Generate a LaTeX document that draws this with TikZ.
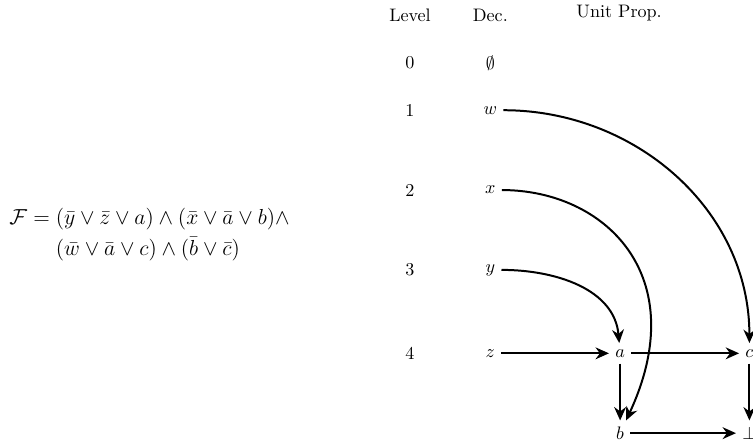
\documentclass[tikz,border=0pt]{standalone}
\usepackage{amsmath,amssymb}
\usetikzlibrary{arrows.meta,positioning}

\begin{document}
\begin{tikzpicture}[
  hd/.style={anchor=base},
  lv/.style={},
  lit/.style={},
  arr/.style={-{Stealth[length=2.6mm,width=2.3mm]}, line width=1.1pt}
]
\useasboundingbox (0,0) rectangle (14.62,-8.64);
% Formel
\node[anchor=west, align=left, font=\large] (form) at (0.06,-4.55)
  {$\mathcal{F} = (\bar y \vee \bar z \vee a) \wedge (\bar x \vee \bar a \vee b) \wedge$\\[3pt]
   $\hphantom{\mathcal{F} = {}}(\bar w \vee \bar a \vee c) \wedge (\bar b \vee \bar c)$};
% Kopfzeile
\node[hd] (hlev) at (7.96,-0.42) {Level};
\node[hd] (hdec) at (9.52,-0.42) {Dec.};
\node[hd] (hup) at (12.02,-0.34) {Unit Prop.};
% Ebenen
\node[lv] (l0) at (7.96,-1.22) {0};
\node[lv] (l1) at (7.96,-2.14) {1};
\node[lv] (l2) at (7.96,-3.69) {2};
\node[lv] (l3) at (7.96,-5.24) {3};
\node[lv] (l4) at (7.96,-6.86) {4};
% Entscheidungen
\node[lit] (d0) at (9.52,-1.22) {$\emptyset$};
\node[lit] (w) at (9.52,-2.14) {$w$};
\node[lit] (x) at (9.52,-3.69) {$x$};
\node[lit] (y) at (9.52,-5.24) {$y$};
\node[lit] (z) at (9.52,-6.86) {$z$};
% Propagation
\node[lit] (a) at (12.04,-6.86) {$a$};
\node[lit] (c) at (14.55,-6.86) {$c$};
\node[lit] (b) at (12.04,-8.41) {$b$};
\node[lit] (bot) at (14.55,-8.41) {$\bot$};

\draw[arr] (w) to[out=0,in=90] (c);
\draw[arr] (x) to[out=0,in=65,out distance=2cm,in distance=3.1cm] (b);
\draw[arr] (y) to[out=0,in=95] (a);
\draw[arr] (z) -- (a);
\draw[arr] (a) -- (c);
\draw[arr] (a) -- (b);
\draw[arr] (c) -- (bot);
\draw[arr] (b) -- (bot);
\end{tikzpicture}
\end{document}
